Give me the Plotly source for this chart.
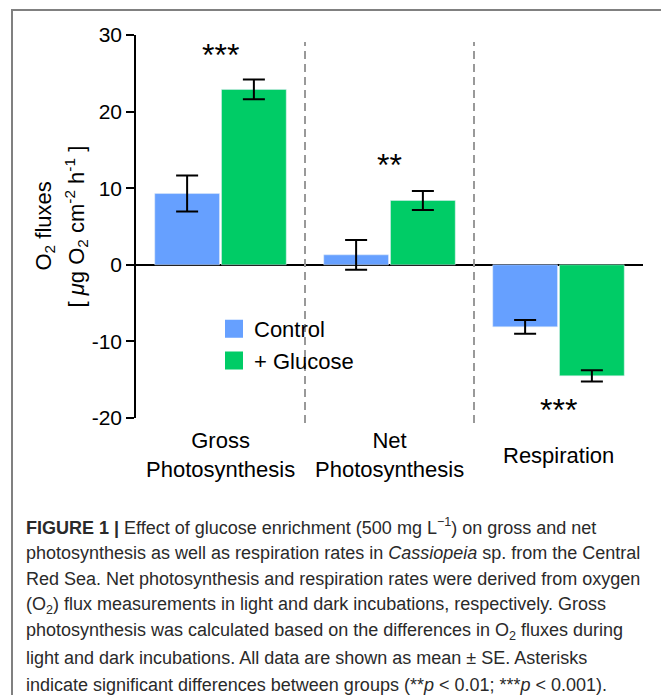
import plotly.graph_objects as go

# ---------------- data ----------------
categories = ["Gross Photosynthesis", "Net Photosynthesis", "Respiration"]
control = [9.3, 1.3, -8.1]
control_se = [2.35, 1.95, 0.9]
glucose = [22.9, 8.4, -14.5]
glucose_se = [1.3, 1.25, 0.75]
series_names = ["Control", "+ Glucose"]
significance = ["***", "**", "***"]
sig_y = [27.4, 13.0, -19.0]
y_tickvals = [-20, -10, 0, 10, 20, 30]
y_ticktext = ["-20", "-10", "0", "10", "20", "30"]

caption_lines = [
    "<b>FIGURE 1 |</b> Effect of glucose enrichment (500 mg L<sup>\u22121</sup>) on gross and net",
    "photosynthesis as well as respiration rates in <i>Cassiopeia</i> sp. from the Central",
    "Red Sea. Net photosynthesis and respiration rates were derived from oxygen",
    "(O<sub>2</sub>) flux measurements in light and dark incubations, respectively. Gross",
    "photosynthesis was calculated based on the differences in O<sub>2</sub> fluxes during",
    "light and dark incubations. All data are shown as mean \u00b1 SE. Asterisks",
    "indicate significant differences between groups (**<i>p</i> &lt; 0.01; ***<i>p</i> &lt; 0.001).",
]

BLUE = "#66A0FF"
GREEN = "#00CC66"
FONT = "Liberation Sans, Arial, Helvetica, sans-serif"

# page offset of the figure (default body margin of the html page)
OFF = 8
W, H = 669 - OFF, 695 - OFF
# plot area in page pixels: x 136..643, y 35..418
L, T = 136 - OFF, 35 - OFF
R = W - (643 - OFF)
B = H - (418 - OFF)
PW, PH = W - L - R, H - T - B


def px_x(px):
    return (px - OFF - L) / PW


def px_y(py):
    return (T + PH - (py - OFF)) / PH


fig = go.Figure()
fig.add_trace(go.Bar(
    name=series_names[0], x=categories, y=control,
    marker=dict(color=BLUE),
    error_y=dict(type="data", array=control_se, color="black", thickness=2, width=11),
    showlegend=False,
))
fig.add_trace(go.Bar(
    name=series_names[1], x=categories, y=glucose,
    marker=dict(color=GREEN),
    error_y=dict(type="data", array=glucose_se, color="black", thickness=2, width=11),
    showlegend=False,
))
# legend entries (square swatches)
for nm, col in zip(series_names, [BLUE, GREEN]):
    fig.add_trace(go.Scatter(
        x=[None], y=[None], mode="markers", name=nm,
        marker=dict(symbol="square", size=16, color=col, line=dict(color=col, width=2)),
        showlegend=True,
    ))

annotations = []
# significance stars
for c, s, yv in zip(categories, significance, sig_y):
    annotations.append(dict(x=c, y=yv, xref="x", yref="y", text=s, showarrow=False,
                            font=dict(size=32, color="black", family=FONT),
                            xanchor="center", yanchor="middle"))
# category labels
for c in categories:
    annotations.append(dict(x=c, y=px_y(455), xref="x", yref="paper",
                            text=c.replace(" ", "<br>", 1), showarrow=False,
                            font=dict(size=22, color="black", family=FONT),
                            xanchor="center", yanchor="middle"))
# y-axis title (two lines)
annotations.append(dict(x=px_x(44), y=0.5, xref="paper", yref="paper", textangle=-90,
                        text="O<sub>2</sub> fluxes", showarrow=False,
                        font=dict(size=22, color="black", family=FONT),
                        xanchor="center", yanchor="middle"))
annotations.append(dict(x=px_x(76), y=0.5, xref="paper", yref="paper", textangle=-90,
                        text="[ <i>\u03bc</i>g O<sub>2</sub> cm<sup>-2</sup> h<sup>-1</sup> ]",
                        showarrow=False,
                        font=dict(size=22, color="black", family=FONT),
                        xanchor="center", yanchor="middle"))
# caption
cap_y = [526, 552.5, 579, 605, 631.5, 658, 684.5]
for line, yy in zip(caption_lines, cap_y):
    annotations.append(dict(x=px_x(24), y=px_y(yy), xref="paper", yref="paper",
                            text=line, showarrow=False, align="left",
                            font=dict(size=18, color="#2a2a2a", family=FONT),
                            xanchor="left", yanchor="middle"))

shapes = []
# dashed separators
for xv in [0.5, 1.5]:
    shapes.append(dict(type="line", xref="x", yref="paper", x0=xv, x1=xv,
                       y0=px_y(423), y1=px_y(42),
                       line=dict(color="#999999", width=2, dash="8px,5px")))
# outer frame
shapes.append(dict(type="rect", xref="paper", yref="paper",
                   x0=px_x(12), x1=px_x(667), y0=px_y(720), y1=px_y(10),
                   line=dict(color="#808080", width=2), fillcolor="rgba(0,0,0,0)"))

fig.update_layout(
    width=W, height=H,
    margin=dict(l=L, r=R, t=T, b=B, pad=0),
    paper_bgcolor="white", plot_bgcolor="white",
    barmode="group", bargap=0.21, bargroupgap=0.03,
    font=dict(family=FONT, size=21, color="black"),
    showlegend=True,
    legend=dict(x=px_x(214), y=px_y(308), xanchor="left", yanchor="top",
                font=dict(size=22, color="black", family=FONT),
                bgcolor="rgba(0,0,0,0)", tracegroupgap=0, itemwidth=30),
    xaxis=dict(range=[-0.5, 2.5], showticklabels=False, showline=False, ticks="",
               showgrid=False, zeroline=False, fixedrange=True),
    yaxis=dict(range=[-20, 30], tickvals=y_tickvals, ticktext=y_ticktext,
               ticks="outside", ticklen=8, tickwidth=1.5, tickcolor="black",
               showline=True, linecolor="black", linewidth=1.5,
               showgrid=False, zeroline=True, zerolinecolor="black", zerolinewidth=1.5,
               tickfont=dict(size=21, color="black", family=FONT)),
    annotations=annotations,
    shapes=shapes,
)

fig.write_html("out.html")
